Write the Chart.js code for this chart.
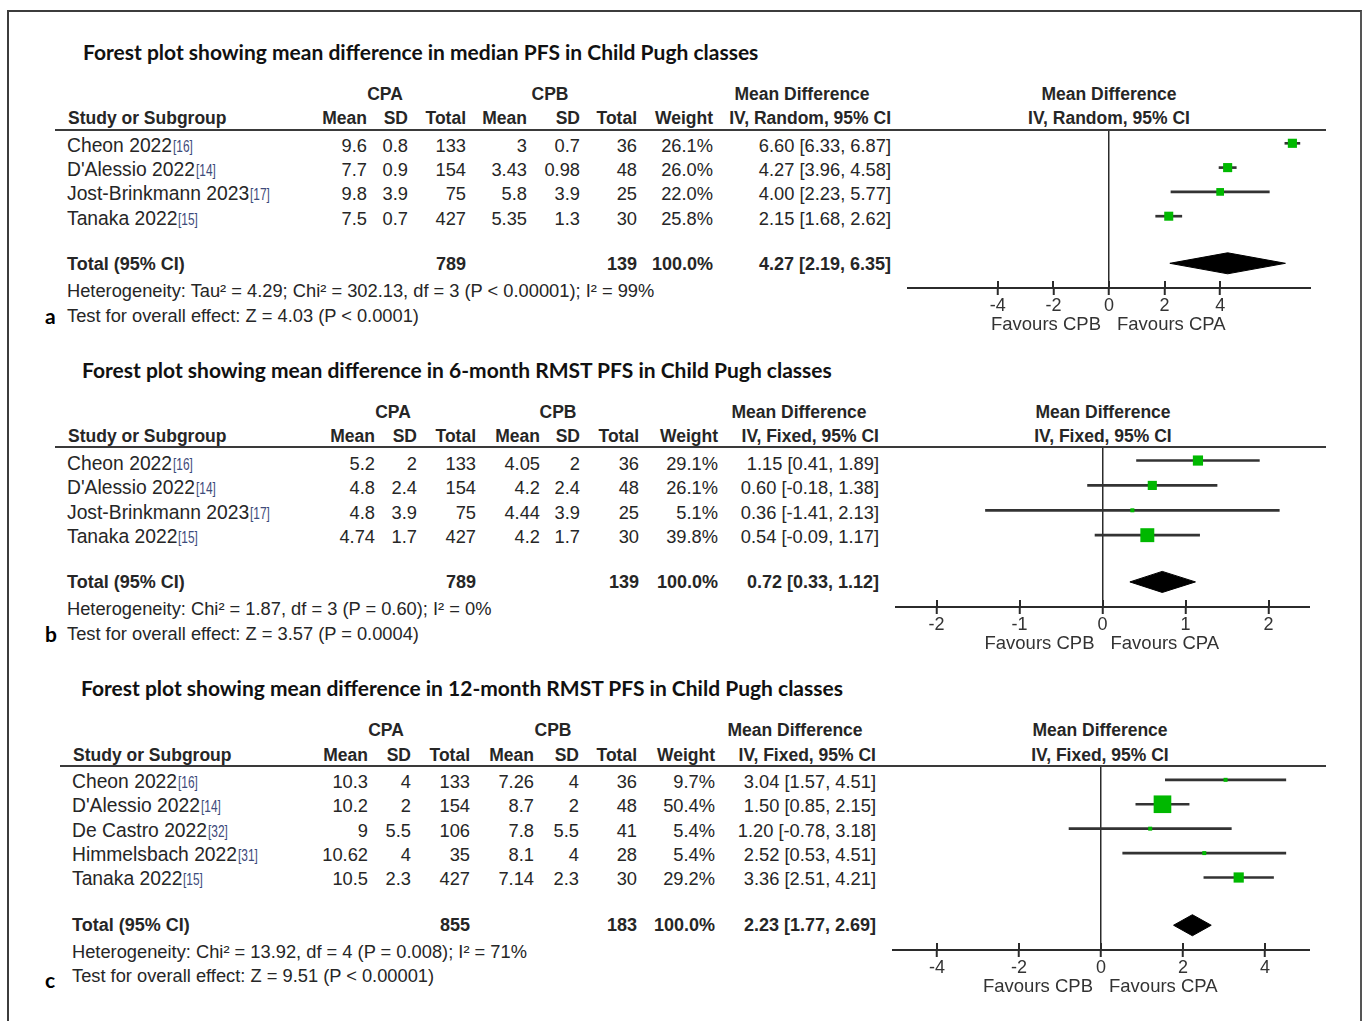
<!DOCTYPE html>
<html>
<head>
<meta charset="utf-8">
<script src="https://cdn.jsdelivr.net/npm/chart.js@4.4.1/dist/chart.umd.min.js"></script>
<style>
  html, body { margin: 0; padding: 0; background: #fff; }
  #page { position: relative; width: 1366px; height: 1021px; overflow: hidden; background: #fff; }
  .frame { position: absolute; left: 7px; top: 10px; width: 1351px; height: 1020px;
           border-left: 2px solid #3c3c3c; border-top: 2px solid #3c3c3c; border-right: 2px solid #555; }
  .t { position: absolute; white-space: nowrap; line-height: 20px; height: 20px;
       font-family: "Liberation Sans", Arial, sans-serif;
       font-size: 18.3px; color: #262626; }
  .b { font-weight: bold; font-size: 18px; }
  .bh { font-weight: bold; font-size: 17.5px; }
  .name { font-size: 19.3px; }
  .title { font-family: Lato, "Open Sans", sans-serif; font-weight: bold; font-size: 21px; color: #111; }
  .letter { font-family: Lato, "Open Sans", sans-serif; font-weight: bold; font-size: 21px; color: #000; }
  .ref { display: inline-block; font-size: 17px; color: #3d4a7a; margin-left: 1px; margin-right: -8px;
         transform: scaleX(0.7); transform-origin: left center; }
  .rule { position: absolute; height: 2px; background: #3a3a3a; }
  canvas { position: absolute; }
</style>
</head>
<body>
<div id="page"><div class="frame"></div></div>
<script>
// ---------- Panel a: median PFS (random effects) ----------
const studiesA   = ["Cheon 2022", "D'Alessio 2022", "Jost-Brinkmann 2023", "Tanaka 2022"];
const refsA      = ["[16]", "[14]", "[17]", "[15]"];
const cpaMeanA   = [9.6, 7.7, 9.8, 7.5];
const cpaSdA     = [0.8, 0.9, 3.9, 0.7];
const cpaTotalA  = [133, 154, 75, 427];
const cpbMeanA   = [3, 3.43, 5.8, 5.35];
const cpbSdA     = [0.7, 0.98, 3.9, 1.3];
const cpbTotalA  = [36, 48, 25, 30];
const weightA    = [26.1, 26.0, 22.0, 25.8];
const mdA        = [6.60, 4.27, 4.00, 2.15];
const lowA       = [6.33, 3.96, 2.23, 1.68];
const highA      = [6.87, 4.58, 5.77, 2.62];
const pooledA    = [4.27, 2.19, 6.35];      // estimate, lower, upper
const totalsA    = [789, 139];
const ticksA     = [-4, -2, 0, 2, 4];
const rangeA     = 7.27;
const hetA  = "Heterogeneity: Tau\u00B2 = 4.29; Chi\u00B2 = 302.13, df = 3 (P < 0.00001); I\u00B2 = 99%";
const testA = "Test for overall effect: Z = 4.03 (P < 0.0001)";

// ---------- Panel b: 6-month RMST PFS (fixed effect) ----------
const studiesB   = ["Cheon 2022", "D'Alessio 2022", "Jost-Brinkmann 2023", "Tanaka 2022"];
const refsB      = ["[16]", "[14]", "[17]", "[15]"];
const cpaMeanB   = [5.2, 4.8, 4.8, 4.74];
const cpaSdB     = [2, 2.4, 3.9, 1.7];
const cpaTotalB  = [133, 154, 75, 427];
const cpbMeanB   = [4.05, 4.2, 4.44, 4.2];
const cpbSdB     = [2, 2.4, 3.9, 1.7];
const cpbTotalB  = [36, 48, 25, 30];
const weightB    = [29.1, 26.1, 5.1, 39.8];
const mdB        = [1.15, 0.60, 0.36, 0.54];
const lowB       = [0.41, -0.18, -1.41, -0.09];
const highB      = [1.89, 1.38, 2.13, 1.17];
const pooledB    = [0.72, 0.33, 1.12];
const totalsB    = [789, 139];
const ticksB     = [-2, -1, 0, 1, 2];
const rangeB     = 2.5;
const hetB  = "Heterogeneity: Chi\u00B2 = 1.87, df = 3 (P = 0.60); I\u00B2 = 0%";
const testB = "Test for overall effect: Z = 3.57 (P = 0.0004)";

// ---------- Panel c: 12-month RMST PFS (fixed effect) ----------
const studiesC   = ["Cheon 2022", "D'Alessio 2022", "De Castro 2022", "Himmelsbach 2022", "Tanaka 2022"];
const refsC      = ["[16]", "[14]", "[32]", "[31]", "[15]"];
const cpaMeanC   = [10.3, 10.2, 9, 10.62, 10.5];
const cpaSdC     = [4, 2, 5.5, 4, 2.3];
const cpaTotalC  = [133, 154, 106, 35, 427];
const cpbMeanC   = [7.26, 8.7, 7.8, 8.1, 7.14];
const cpbSdC     = [4, 2, 5.5, 4, 2.3];
const cpbTotalC  = [36, 48, 41, 28, 30];
const weightC    = [9.7, 50.4, 5.4, 5.4, 29.2];
const mdC        = [3.04, 1.50, 1.20, 2.52, 3.36];
const lowC       = [1.57, 0.85, -0.78, 0.53, 2.51];
const highC      = [4.51, 2.15, 3.18, 4.51, 4.21];
const pooledC    = [2.23, 1.77, 2.69];
const totalsC    = [855, 183];
const ticksC     = [-4, -2, 0, 2, 4];
const rangeC     = 5.1;
const hetC  = "Heterogeneity: Chi\u00B2 = 13.92, df = 4 (P = 0.008); I\u00B2 = 71%";
const testC = "Test for overall effect: Z = 9.51 (P < 0.00001)";

const panels = [
  { letter: "a", title: "Forest plot showing mean difference in median PFS in Child Pugh classes",
    method: "IV, Random, 95% CI", studies: studiesA, refs: refsA,
    cols: [cpaMeanA, cpaSdA, cpaTotalA, cpbMeanA, cpbSdA, cpbTotalA],
    weight: weightA, md: mdA, low: lowA, high: highA, pooled: pooledA, totals: totalsA,
    ticks: ticksA, range: rangeA, het: hetA, test: testA },
  { letter: "b", title: "Forest plot showing mean difference in 6-month RMST PFS in Child Pugh classes",
    method: "IV, Fixed, 95% CI", studies: studiesB, refs: refsB,
    cols: [cpaMeanB, cpaSdB, cpaTotalB, cpbMeanB, cpbSdB, cpbTotalB],
    weight: weightB, md: mdB, low: lowB, high: highB, pooled: pooledB, totals: totalsB,
    ticks: ticksB, range: rangeB, het: hetB, test: testB },
  { letter: "c", title: "Forest plot showing mean difference in 12-month RMST PFS in Child Pugh classes",
    method: "IV, Fixed, 95% CI", studies: studiesC, refs: refsC,
    cols: [cpaMeanC, cpaSdC, cpaTotalC, cpbMeanC, cpbSdC, cpbTotalC],
    weight: weightC, md: mdC, low: lowC, high: highC, pooled: pooledC, totals: totalsC,
    ticks: ticksC, range: rangeC, het: hetC, test: testC }
];

// Page geometry of each panel (text rows and plot box)
const layouts = [
  { titleX: 83, titleY: 52, groupY: 94, headY: 118, ruleY: 130, ruleL: 55, row0: 146, pitch: 24.2,
    totalY: 264, hetY: 291, testY: 316, letterY: 316, nameX: 67,
    colX: [367, 408, 466, 527, 580, 637, 713, 891], cpaX: 385, cpbX: 550, mdX: 802, plotHeadX: 1109,
    plot: { left: 907, right: 1311, top: 131, axis: 288, row0: 143.3, pitch: 24.3, totalRow: 263.3 } },
  { titleX: 82, titleY: 370, groupY: 412, headY: 436, ruleY: 447, ruleL: 55, row0: 464, pitch: 24.4,
    totalY: 582, hetY: 609, testY: 634, letterY: 634, nameX: 67,
    colX: [375, 417, 476, 540, 580, 639, 718, 879], cpaX: 393, cpbX: 558, mdX: 799, plotHeadX: 1103,
    plot: { left: 895, right: 1310, top: 447.5, axis: 606, row0: 460, pitch: 24.8, totalRow: 581 } },
  { titleX: 81, titleY: 688, groupY: 730, headY: 755, ruleY: 766, ruleL: 60, row0: 782, pitch: 24.3,
    totalY: 925, hetY: 952, testY: 976, letterY: 980, nameX: 72,
    colX: [368, 411, 470, 534, 579, 637, 715, 876], cpaX: 386, cpbX: 553, mdX: 795, plotHeadX: 1100,
    plot: { left: 892, right: 1310, top: 766.5, axis: 949, row0: 779.3, pitch: 24.35, totalRow: 924.3 } }
];

const page = document.getElementById("page");
const FONT = '"Liberation Sans", Arial, sans-serif';

function put(content, x, y, align, cls) {
  const d = document.createElement("div");
  d.className = "t " + (cls || "");
  d.style.left = x + "px";
  d.style.top = (y - 10) + "px";
  if (align === "r") d.style.transform = "translateX(-100%)";
  else if (align === "c") d.style.transform = "translateX(-50%)";
  if (typeof content === "string") d.textContent = content;
  else content.forEach(n => d.appendChild(n));
  page.appendChild(d);
  return d;
}

function span(text, cls) {
  const s = document.createElement("span");
  if (cls) s.className = cls;
  s.textContent = text;
  return s;
}

function ciLabel(est, lo, hi) {
  return est.toFixed(2) + " [" + lo.toFixed(2) + ", " + hi.toFixed(2) + "]";
}

// Upper halves of the axis ticks and the "Favours" captions either side of zero
const forestAxis = {
  id: "forestAxis",
  afterDraw(chart, args, opts) {
    const xs = chart.scales.x, ctx = chart.ctx, yb = chart.chartArea.bottom;
    ctx.save();
    ctx.strokeStyle = "#2b2b2b";
    ctx.lineWidth = 2;
    xs.ticks.forEach(t => {
      const px = Math.round(xs.getPixelForValue(t.value));
      ctx.beginPath();
      ctx.moveTo(px, yb - 7);
      ctx.lineTo(px, yb);
      ctx.stroke();
    });
    const z = xs.getPixelForValue(0);
    ctx.font = "18.5px " + FONT;
    ctx.fillStyle = "#333";
    ctx.textBaseline = "middle";
    ctx.textAlign = "right";
    ctx.fillText(opts.left, z - 8, yb + 37);
    ctx.textAlign = "left";
    ctx.fillText(opts.right, z + 8, yb + 37);
    ctx.restore();
  }
};

function drawTable(p, L) {
  put(p.title, L.titleX, L.titleY, "l", "title");
  put(p.letter, 45, L.letterY, "l", "letter");

  // group headers
  put("CPA", L.cpaX, L.groupY, "c", "bh");
  put("CPB", L.cpbX, L.groupY, "c", "bh");
  put("Mean Difference", L.mdX, L.groupY, "c", "bh");
  put("Mean Difference", L.plotHeadX, L.groupY, "c", "bh");

  // column headers
  put("Study or Subgroup", L.nameX + 1, L.headY, "l", "bh");
  ["Mean", "SD", "Total", "Mean", "SD", "Total", "Weight"].forEach((h, k) =>
    put(h, L.colX[k], L.headY, "r", "bh"));
  put(p.method, L.colX[7], L.headY, "r", "bh");
  put(p.method, L.plotHeadX, L.headY, "c", "bh");

  const rule = document.createElement("div");
  rule.className = "rule";
  rule.style.left = L.ruleL + "px";
  rule.style.top = (L.ruleY - 1) + "px";
  rule.style.width = (1326 - L.ruleL) + "px";
  page.appendChild(rule);

  // study rows
  p.studies.forEach((s, i) => {
    const y = L.row0 + i * L.pitch;
    put([span(s, "name"), span(p.refs[i], "ref")], L.nameX, y, "l");
    p.cols.forEach((col, k) => put(String(col[i]), L.colX[k], y, "r"));
    put(p.weight[i].toFixed(1) + "%", L.colX[6], y, "r");
    put(ciLabel(p.md[i], p.low[i], p.high[i]), L.colX[7], y, "r");
  });

  // pooled row
  put("Total (95% CI)", L.nameX, L.totalY, "l", "b");
  put(String(p.totals[0]), L.colX[2], L.totalY, "r", "b");
  put(String(p.totals[1]), L.colX[5], L.totalY, "r", "b");
  put("100.0%", L.colX[6], L.totalY, "r", "b");
  put(ciLabel(p.pooled[0], p.pooled[1], p.pooled[2]), L.colX[7], L.totalY, "r", "b");

  put(p.het, L.nameX, L.hetY, "l");
  put(p.test, L.nameX, L.testY, "l");
}

function drawPlot(p, L) {
  const P = L.plot;
  const axisH = 52;
  const w = P.right - P.left, h = Math.round(P.axis - P.top + axisH);
  const cv = document.createElement("canvas");
  cv.width = w; cv.height = h;
  cv.style.left = P.left + "px"; cv.style.top = P.top + "px";
  cv.style.width = w + "px"; cv.style.height = h + "px";
  page.appendChild(cv);

  const yMin = (P.top - P.row0) / P.pitch;
  const yMax = (P.axis - P.row0) / P.pitch;
  const totalRow = (P.totalRow - P.row0) / P.pitch;
  const half = 10.5 / P.pitch;
  const [est, lo, hi] = p.pooled;

  const squares = p.md.map((v, i) => ({ x: v, y: i }));
  const sizes = p.weight.map(wt => Math.max(4, wt * 0.35) / Math.SQRT2);
  const bars = p.low.map((l, i) => ({ x: [l, p.high[i]], y: i }));

  new Chart(cv, {
    type: "scatter",
    data: {
      datasets: [
        { type: "scatter", data: squares, pointStyle: "rect", pointRadius: sizes,
          backgroundColor: "#00b800", borderColor: "#00b800", borderWidth: 0, order: 0 },
        { type: "bar", indexAxis: "y", data: bars, backgroundColor: "#333", borderWidth: 0,
          barThickness: 2, order: 1 },
        { type: "line", data: [{ x: lo, y: totalRow }, { x: est, y: totalRow - half }, { x: hi, y: totalRow }],
          borderColor: "#000", borderWidth: 1, pointRadius: 0, tension: 0,
          backgroundColor: "#000", fill: "+1", order: 2 },
        { type: "line", data: [{ x: lo, y: totalRow }, { x: est, y: totalRow + half }, { x: hi, y: totalRow }],
          borderColor: "#000", borderWidth: 1, pointRadius: 0, tension: 0, fill: false, order: 3 }
      ]
    },
    options: {
      responsive: false,
      animation: false,
      layout: { padding: 0, autoPadding: false },
      plugins: {
        legend: { display: false },
        tooltip: { enabled: false },
        forestAxis: { left: "Favours CPB", right: "Favours CPA" }
      },
      scales: {
        x: {
          type: "linear", min: -p.range, max: p.range, offset: false, beginAtZero: false,
          afterBuildTicks: s => { s.ticks = p.ticks.map(v => ({ value: v })); },
          afterFit: s => { s.height = axisH; },
          border: { display: true, color: "#2b2b2b", width: 2 },
          grid: {
            drawOnChartArea: true, offset: false,
            color: c => (c.tick && c.tick.value === 0) ? "#2b2b2b" : "rgba(0,0,0,0)",
            lineWidth: 1.5, tickLength: 7, tickColor: "#2b2b2b", tickWidth: 2
          },
          ticks: { font: { family: FONT, size: 18 }, color: "#333", padding: 0,
                   maxRotation: 0, callback: v => String(v) }
        },
        y: { type: "linear", display: false, reverse: true, offset: false,
             grid: { offset: false }, min: yMin, max: yMax }
      }
    },
    plugins: [forestAxis]
  });
}

panels.forEach((p, k) => {
  drawTable(p, layouts[k]);
  drawPlot(p, layouts[k]);
});
</script>
</body>
</html>
